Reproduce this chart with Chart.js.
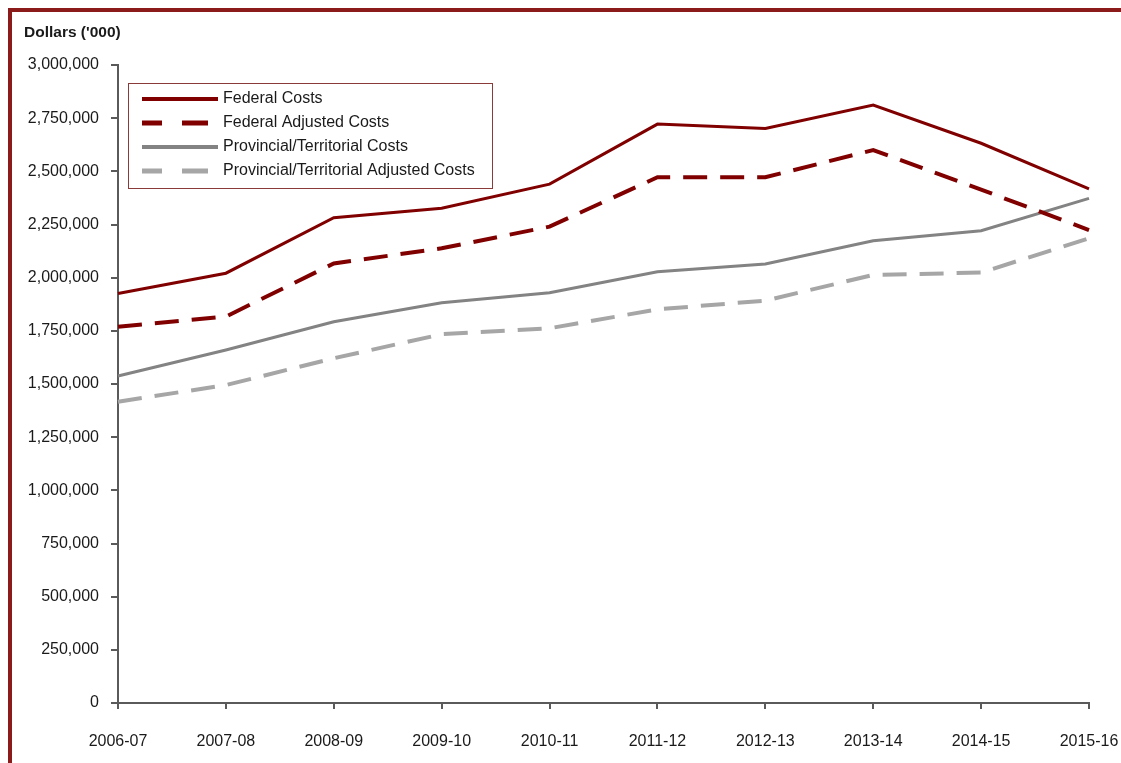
<!DOCTYPE html>
<html lang="en">
<head>
<meta charset="utf-8">
<title>Federal and Provincial/Territorial Costs</title>
<script src="https://cdn.jsdelivr.net/npm/chart.js@4.4.0/dist/chart.umd.min.js"></script>
<style>
    html, body { margin: 0; padding: 0; background: #fff; overflow: hidden; width: 1121px; height: 763px; }
    #frame {
        position: absolute; left: 8px; top: 8px; width: 1200px; height: 800px;
        border-left: 4px solid #8b1a1a; border-top: 4px solid #8b1a1a;
    }
    #wrap { position: absolute; left: 0; top: 0; width: 1121px; height: 763px; }
</style>
</head>
<body>
<div id="frame"></div>
<div id="wrap"><canvas id="cost-chart"></canvas></div>
<script>
const years = ['2006-07', '2007-08', '2008-09', '2009-10', '2010-11', '2011-12', '2012-13', '2013-14', '2014-15', '2015-16'];

// dollars ('000)
const federalCosts = [1926000, 2021000, 2282000, 2326000, 2440000, 2722000, 2702000, 2812000, 2632000, 2417000];
const federalAdjusted = [1769000, 1817000, 2067000, 2138000, 2240000, 2472000, 2472000, 2600000, 2414000, 2224000];
const provincialCosts = [1538000, 1660000, 1793000, 1882000, 1929000, 2028000, 2064000, 2174000, 2221000, 2373000];
const provincialAdjusted = [1417000, 1495000, 1621000, 1734000, 1762000, 1851000, 1892000, 2013000, 2024000, 2185000];

const yTicks = [0, 250000, 500000, 750000, 1000000, 1250000, 1500000, 1750000, 2000000, 2250000, 2500000, 2750000, 3000000];

const FONT = "'Liberation Sans', Arial, sans-serif";
const TEXT = '#1a1a1a';
const AXIS = '#5a5a5a';
const RED = '#800000';
const GREY = '#838383';
const LIGHT_GREY = '#a6a6a6';

// boxed legend sitting inside the plot, plus the unit caption
const legendBox = {
    id: 'legendBox',
    afterDraw(chart) {
        const ctx = chart.ctx;
        ctx.save();

        ctx.font = `bold 15.5px ${FONT}`;
        ctx.fillStyle = TEXT;
        ctx.textBaseline = 'middle';
        ctx.fillText("Dollars ('000)", 24, 33);

        ctx.fillStyle = '#fff';
        ctx.fillRect(128.5, 83.5, 364, 105);
        ctx.strokeStyle = '#8b3a3a';
        ctx.lineWidth = 1;
        ctx.strokeRect(128.5, 83.5, 364, 105);

        chart.data.datasets.forEach((ds, i) => {
            const y = 99 + i * 24;
            const dashed = ds.borderDash.length > 0;
            ctx.beginPath();
            ctx.setLineDash(dashed ? [20, 20, 26] : []);
            ctx.lineWidth = dashed ? 5 : 4;
            ctx.strokeStyle = ds.borderColor;
            ctx.moveTo(142, y);
            ctx.lineTo(dashed ? 208 : 218, y);
            ctx.stroke();
            ctx.setLineDash([]);

            ctx.font = `16px ${FONT}`;
            ctx.fillStyle = TEXT;
            ctx.fillText(ds.label, 223, y);
        });
        ctx.restore();
    }
};

function series(label, data, color, dashed) {
    return {
        label: label,
        data: data,
        borderColor: color,
        borderWidth: dashed ? 4 : 3,
        borderDash: dashed ? [24, 13] : [],
        pointRadius: 0,
        tension: 0,
        fill: false
    };
}

document.addEventListener('DOMContentLoaded', () => {
    const canvas = document.getElementById('cost-chart');

    new Chart(canvas, {
        type: 'line',
        data: {
            labels: years,
            datasets: [
                series('Federal Costs', federalCosts, RED, false),
                series('Federal Adjusted Costs', federalAdjusted, RED, true),
                series('Provincial/Territorial Costs', provincialCosts, GREY, false),
                series('Provincial/Territorial Adjusted Costs', provincialAdjusted, LIGHT_GREY, true)
            ]
        },
        options: {
            responsive: true,
            maintainAspectRatio: false,
            animation: false,
            layout: { padding: { top: 65, right: 32, left: 0, bottom: 0 } },
            plugins: {
                legend: { display: false },
                tooltip: { enabled: false }
            },
            scales: {
                x: {
                    offset: false,
                    grid: { drawOnChartArea: false, drawTicks: true, tickLength: 6, color: AXIS, lineWidth: 2 },
                    border: { display: true, color: AXIS, width: 2 },
                    ticks: { color: TEXT, font: { family: FONT, size: 16 }, padding: 23, maxRotation: 0, autoSkip: false },
                    afterFit: scale => {
                        scale.height = 60;
                        // labels may overhang the ends; keep the axis span fixed
                        scale.paddingLeft = 0;
                        scale.paddingRight = 0;
                    }
                },
                y: {
                    min: 0,
                    max: 3000000,
                    afterBuildTicks: scale => { scale.ticks = yTicks.map(v => ({ value: v })); },
                    grid: { drawOnChartArea: false, drawTicks: true, tickLength: 7, color: AXIS, lineWidth: 2 },
                    border: { display: true, color: AXIS, width: 2 },
                    ticks: {
                        color: TEXT,
                        font: { family: FONT, size: 16 },
                        padding: 12,
                        callback: value => value.toLocaleString('en-US')
                    },
                    afterFit: scale => {
                        scale.width = 118;
                        scale.paddingTop = 0;
                        scale.paddingBottom = 0;
                    }
                }
            }
        },
        plugins: [legendBox]
    });
});
</script>
</body>
</html>
